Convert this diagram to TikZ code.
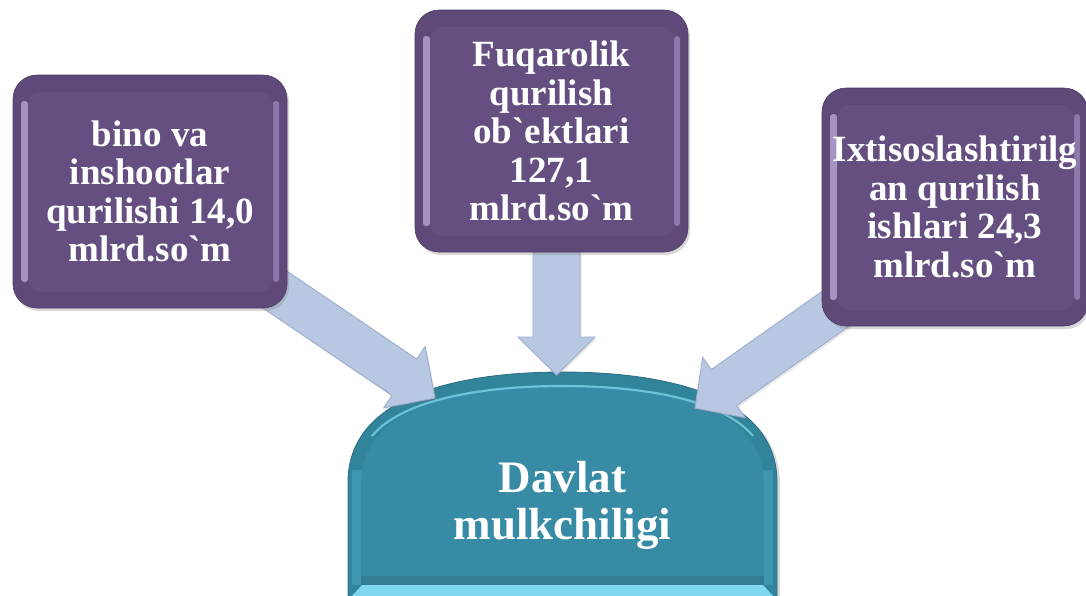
\documentclass[tikz,border=0pt]{standalone}
\usepackage{fontspec}
\setmainfont{Liberation Serif}[Ligatures=TeXOff]
\usetikzlibrary{calc,shadows}
\definecolor{pring}{HTML}{5E4979}
\definecolor{pface}{HTML}{644F80}
\definecolor{pedge}{HTML}{4E3B67}
\definecolor{plav}{HTML}{B3A0D2}
\definecolor{plav2}{HTML}{A28DC2}
\definecolor{tring}{HTML}{32849B}
\definecolor{tface}{HTML}{378BA4}
\definecolor{tedge}{HTML}{2A6C80}
\definecolor{tlight}{HTML}{80D6EC}
\definecolor{tside}{HTML}{3E97AF}
\definecolor{tdark}{HTML}{327D94}
\definecolor{afill}{HTML}{B9C8E2}
\definecolor{adraw}{HTML}{9DADCB}
\newcommand\bqt{`}
\newcommand\blockarr[5]{%
  \coordinate (hb) at ($(#2)!#5!(#1)$);
  \filldraw[blockarrow] ($(#1)!#3!90:(#2)$) -- ($(hb)!#3!-90:(#1)$) -- ($(hb)!#4!-90:(#1)$) -- (#2) -- ($(hb)!#4!90:(#1)$) -- ($(hb)!#3!90:(#1)$) -- ($(#1)!#3!-90:(#2)$) -- cycle;}
\tikzset{
  blockarrow/.style={fill=afill, draw=adraw, line width=0.9pt, line join=miter,
    drop shadow={opacity=0.18, shadow xshift=1.5pt, shadow yshift=-2pt}},
  pbox/.style={rounded corners=24pt, fill=pring, draw=pedge, line width=0.6pt,
    text=white, align=center, inner sep=0pt,
    font=\bfseries\fontsize{37}{38.5}\selectfont,
    drop shadow={opacity=0.3, shadow xshift=2pt, shadow yshift=-3pt},
    path picture={
      \fill[plav, opacity=0.85, rounded corners=3pt] ([shift={(8pt,-26pt)}]path picture bounding box.north west) rectangle ([shift={(15pt,26pt)}]path picture bounding box.south west);
      \fill[plav2, opacity=0.7, rounded corners=3pt] ([shift={(-14pt,-26pt)}]path picture bounding box.north east) rectangle ([shift={(-8pt,26pt)}]path picture bounding box.south east);
      \fill[pface, rounded corners=12pt] ([shift={(15pt,-17pt)}]path picture bounding box.north west) rectangle ([shift={(-14pt,16pt)}]path picture bounding box.south east);
    }},
  ttext/.style={text=white, align=center, inner sep=0pt,
    font=\bfseries\fontsize{45}{47}\selectfont}
}
\begin{document}
\begin{tikzpicture}[x=1pt,y=-1pt]
\useasboundingbox (0,0) rectangle (1086,595);
\fill[white] (0,0) rectangle (1086,595);
% central shape
\fill[black, opacity=0.15] (351,600) -- (351,482) .. controls (353,397) and (463,375) .. (565.5,375) .. controls (668,375) and (778,397) .. (780,482) -- (780,600) -- cycle;
\fill[tring, draw=tedge, line width=0.8pt] (348,600) -- (348,480) .. controls (350,395) and (460,372) .. (562.5,372) .. controls (665,372) and (775,395) .. (777,480) -- (777,600) -- cycle;
\fill[tside] (352,470) rectangle (362,585);
\fill[tside] (763,470) rectangle (773,585);
\fill[tface] (361,585) -- (361,482) .. controls (363,405) and (465,385) .. (562.5,385) .. controls (660,385) and (762,405) .. (764,482) -- (764,585) -- cycle;
\draw[tlight, line width=2.2pt, opacity=0.75] (372,436) .. controls (402,400) and (480,386) .. (562.5,386) .. controls (645,386) and (723,400) .. (753,436);
\fill[tdark] (361,576) rectangle (764,585);
\fill[tlight] (350,598) -- (362,585) -- (763,585) -- (775,598) -- cycle;
\node[ttext] (d) at (562.5,505) {Davlat\\mulkchiligi};
% arrows
\coordinate (s1) at (269.4,285.8);
\coordinate (t1) at (435,398);
\coordinate (s2) at (556.5,240);
\coordinate (t2) at (556.5,375);
\coordinate (s3) at (850.2,298.4);
\coordinate (t3) at (695,408);
\blockarr{s1}{t1}{22pt}{37pt}{37pt}
\blockarr{s2}{t2}{23.5pt}{38.5pt}{38pt}
\blockarr{s3}{t3}{22pt}{37pt}{35.5pt}
% boxes
\node[pbox, minimum width=274pt, minimum height=233pt] (b1) at (150,191.5) {bino va\\inshootlar\\qurilishi 14,0\\mlrd.so\bqt{}m};
\node[pbox, minimum width=273pt, minimum height=242pt] (b2) at (551.5,131) {Fuqarolik\\qurilish\\ob\bqt{}ektlari\\127,1\\mlrd.so\bqt{}m};
\node[pbox, minimum width=266pt, minimum height=238pt] (b3) at (955,207) {Ixtisoslashtirilg\\an qurilish\\ishlari 24,3\\mlrd.so\bqt{}m};
\end{tikzpicture}
\end{document}
